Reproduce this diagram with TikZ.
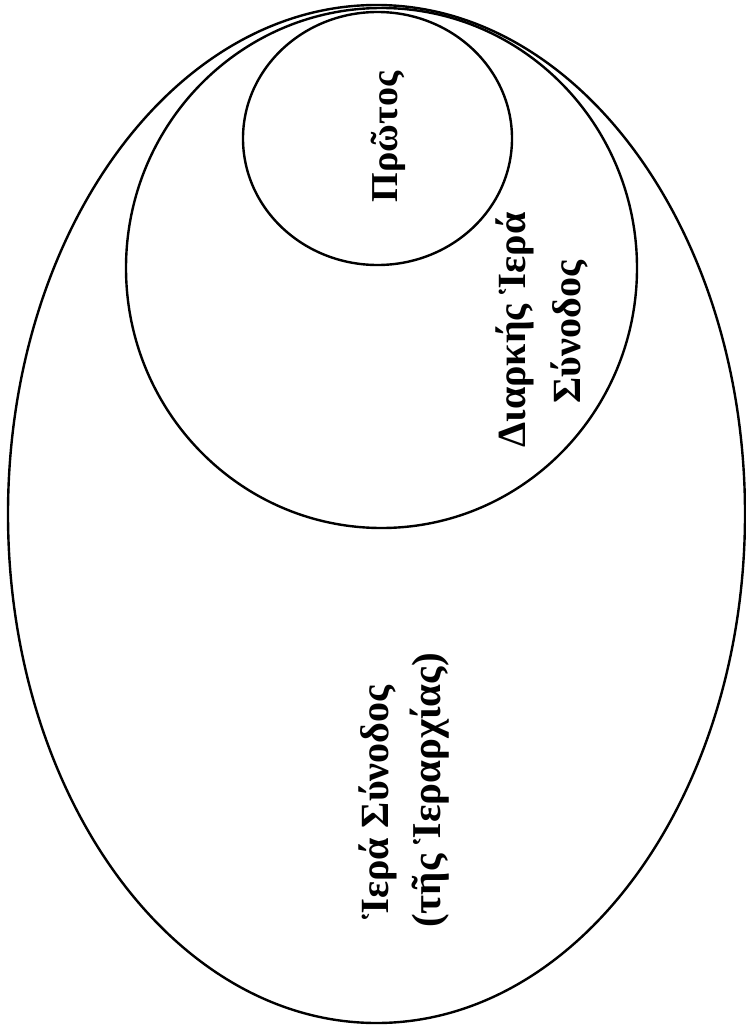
\documentclass[tikz,border=0pt]{standalone}
\usepackage{fontspec}
\setmainfont{Liberation Serif}
\begin{document}
\begin{tikzpicture}[x=1pt,y=-1pt,
  ring/.style={draw=black,line width=2.4pt},
  lbl/.style={rotate=90,inner sep=0pt,font=\bfseries\fontsize{40}{46}\selectfont}]
\useasboundingbox (0,0) rectangle (746,1030);
\draw[ring] (376.5,514) ellipse [x radius=368.5, y radius=509];
\draw[ring] (381.5,268) ellipse [x radius=255.5, y radius=260];
\draw[ring] (377.5,138.5) ellipse [x radius=134.5, y radius=126.5];
\node[lbl,anchor=base,font=\bfseries\fontsize{38}{44}\selectfont] (protos) at (397,137) {Πρῶτος};
\node[lbl,anchor=base] (diarkis1) at (525,330) {Διαρκής Ἱερά};
\node[lbl,anchor=base] (diarkis2) at (580,332) {Σύνοδος};
\node[lbl,anchor=base west] (iera1) at (388,920) {Ἱερά Σύνοδος};
\node[lbl,anchor=base west,font=\bfseries\fontsize{41}{46}\selectfont] (iera2) at (440,928) {(τῆς Ἱεραρχίας)};
\end{tikzpicture}
\end{document}
